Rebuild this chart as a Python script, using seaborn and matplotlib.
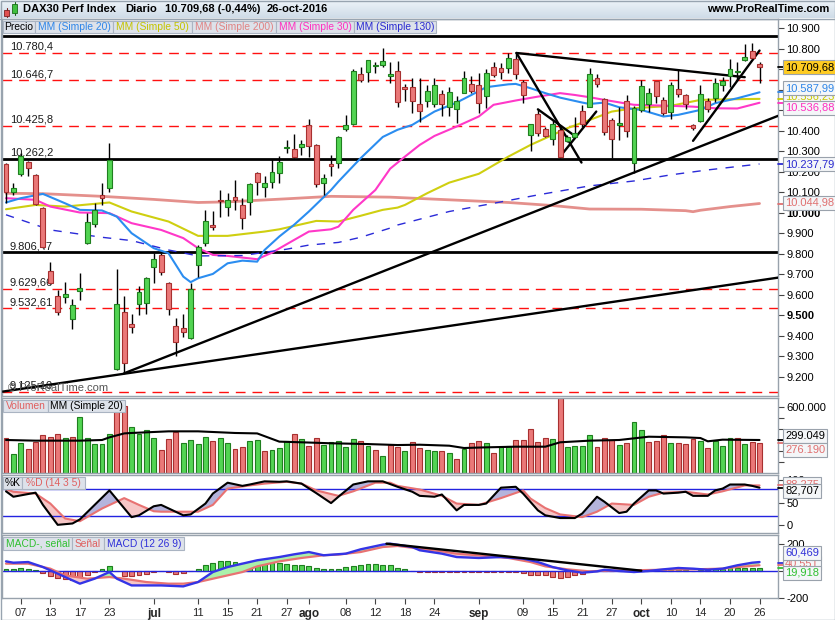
import numpy as np
import matplotlib
matplotlib.use("Agg")
import matplotlib.pyplot as plt
from matplotlib.patches import Rectangle
from matplotlib.colors import to_rgb
import seaborn as sns

# ---------------- data ----------------
opens = [10237,10100,10190,10247,10183,10022,9716,9594,9587,9480,
         9618,9851,9946,10085,10120,9236,9514,9457,9553,9558,
         9737,9792,9656,9447,9436,9387,9745,9851,9939,10063,
         10030,10076,10038,10051,10193,10128,10152,10196,10318,10312,
         10320,10426,10330,10147,10237,10242,10408,10434,10678,10686,
         10718,10720,10668,10694,10613,10613,10531,10546,10531,10579,
         10518,10505,10587,10627,10624,10570,10710,10706,10706,10751,
         10640,10380,10481,10408,10359,10405,10351,10372,10497,10518,
         10660,10554,10453,10429,10546,10242,10502,10531,10644,10551,
         10494,10605,10575,10426,10450,10548,10559,10624,10668,10686,
         10746,10790,10725]
highs = [10245,10147,10291,10255,10190,10030,9757,9623,9661,9578,
         9705,9998,10046,10147,10339,9724,9591,9506,9640,9688,
         9802,9802,9661,9485,9506,9656,9843,10014,10006,10111,
         10095,10160,10071,10147,10201,10180,10261,10277,10356,10385,
         10356,10458,10335,10190,10281,10375,10478,10702,10711,10746,
         10735,10803,10738,10743,10629,10657,10657,10624,10657,10600,
         10616,10570,10693,10668,10681,10701,10738,10733,10779,10782,
         10649,10432,10505,10421,10453,10421,10380,10466,10527,10706,
         10676,10559,10461,10518,10575,10522,10649,10608,10644,10567,
         10640,10697,10579,10431,10624,10559,10657,10665,10750,10738,
         10824,10828,10738]
lows = [10046,10087,10180,10177,10038,9827,9653,9501,9561,9431,
        9574,9848,9929,10038,10103,9233,9216,9415,9501,9506,
        9656,9696,9501,9301,9395,9382,9688,9838,9916,9981,
        9985,10011,9921,9989,10087,10076,10123,10147,10294,10266,
        10282,10274,10128,10087,10180,10217,10401,10429,10636,10637,
        10684,10711,10632,10515,10548,10489,10445,10515,10515,10470,
        10473,10440,10584,10584,10489,10513,10662,10652,10681,10653,
        10538,10299,10375,10372,10331,10266,10343,10369,10421,10515,
        10613,10380,10266,10356,10369,10193,10494,10494,10538,10478,
        10456,10567,10505,10404,10445,10494,10543,10592,10616,10649,
        10743,10754,10632]
closes = [10100,10120,10278,10217,10043,9831,9656,9517,9602,9548,
          9631,9957,10014,10071,10258,9555,9265,9444,9612,9680,
          9773,9709,9529,9371,9417,9627,9831,9962,9928,10056,
          10063,10063,9976,10141,10152,10144,10198,10247,10322,10274,
          10334,10328,10142,10168,10227,10369,10429,10693,10649,10745,
          10722,10740,10678,10540,10603,10546,10497,10595,10624,10530,
          10588,10546,10657,10592,10535,10684,10673,10686,10754,10676,
          10575,10432,10388,10375,10432,10274,10372,10391,10434,10676,
          10627,10393,10359,10437,10401,10510,10619,10584,10570,10489,
          10624,10579,10531,10413,10579,10505,10632,10645,10701,10693,
          10762,10755,10710]

volume_k = [319,173,271,219,285,343,328,353,319,328,
            508,319,264,264,355,568,614,416,355,392,
            319,210,310,377,271,301,264,325,289,319,
            271,219,234,289,301,198,210,228,289,355,
            310,243,322,255,280,289,234,310,289,243,
            210,155,258,234,200,280,228,210,198,198,
            180,128,219,271,289,271,180,234,243,301,
            301,401,280,319,310,690,234,243,243,346,
            234,319,301,255,271,462,392,280,289,346,
            271,271,264,310,289,228,289,243,319,319,
            264,280,276]
volma_idx = [0,4,10,13,14,16,17,22,26,31,34,37,40,44,49,53,56,60,62,65,69,73,75,79,83,85,87,92,94,95,97,102]
volma_val = [301,295,295,301,325,361,365,380,380,365,361,286,280,271,264,255,258,249,228,234,240,240,280,295,301,316,331,325,319,289,304,301]

ma20_idx = [0,2,5,8,10,13,15,17,20,22,24,25,26,28,30,32,34,35,37,39,41,44,45,48,51,53,55,58,61,63,65,68,69,71,73,75,78,79,81,83,86,89,91,94,96,99,102]
ma20_val = [10050,10071,10092,10046,10014,10011,9981,9900,9827,9802,9688,9661,9680,9701,9753,9766,9761,9818,9884,9941,10006,10111,10152,10266,10370,10405,10429,10494,10538,10575,10613,10627,10629,10608,10584,10562,10538,10531,10538,10515,10502,10470,10478,10502,10535,10559,10588]
ma30_idx = [0,4,6,10,14,17,21,24,26,28,30,34,36,39,41,44,45,47,50,52,54,56,58,61,64,66,69,72,75,77,79,81,85,90,93,96,99,102]
ma30_val = [10071,10063,10030,10001,9998,9949,9916,9876,9827,9794,9789,9773,9805,9867,9908,9919,9932,10014,10111,10215,10274,10331,10375,10421,10470,10527,10548,10567,10584,10575,10564,10551,10527,10522,10518,10510,10509,10537]
ma50_idx = [0,4,8,14,17,22,26,30,35,37,42,45,48,51,53,54,57,60,64,68,71,74,76,79,82,85,90,94,98,102]
ma50_val = [10017,10038,10030,10050,10006,9957,9887,9887,9908,9919,9960,9957,9985,10014,10025,10038,10095,10147,10190,10274,10331,10380,10413,10453,10494,10510,10522,10551,10554,10556]
ma200_idx = [0,5,13,20,26,30,38,44,52,60,68,74,79,86,92,93,94,98,102]
ma200_val = [10095,10093,10080,10065,10050,10053,10068,10080,10076,10063,10050,10035,10018,10017,10010,10005,10012,10030,10045]
ma130_idx = [0,6,13,17,22,26,32,38,41,45,48,52,53,60,66,72,79,85,90,95,102]
ma130_val = [9990,9916,9880,9864,9818,9789,9791,9822,9842,9855,9880,9925,9940,10006,10046,10087,10131,10155,10185,10209,10238]

levels_black = [10862, 10262.2, 9806.47]
levels_red = [10780.4, 10646.7, 10425.8, 9629.66, 9532.61, 9125.10]
level_labels = {10780.4: "10.780,4", 10646.7: "10.646,7", 10425.8: "10.425,8", 10262.2: "10.262,2",
                9806.47: "9.806,47", 9629.66: "9.629,66", 9532.61: "9.532,61", 9125.10: "9.125,10"}
# trend lines as (index, price) pairs
trend_lines = [((16, 9216), (104.5, 10473)),
               ((-0.54, 9126), (104.5, 9683)),
               ((69.1, 10780), (100, 10662)),
               ((69.1, 10780), (77.9, 10245)),
               ((72, 10505), (77, 10375)),
               ((75, 10274), (79.9, 10494)),
               ((93, 10351), (102, 10792))]

k_idx = [0,1,4,5,7,9,10,12,14,17,18,20,21,24,25,27,28,30,32,33,35,37,38,40,42,44,45,47,49,51,53,55,56,58,59,61,62,64,65,67,69,70,72,73,75,77,78,80,81,83,84,85,87,88,89,91,92,93,95,96,97,98,100,101,102]
k_val = [75,63,72,45,1,4,13,45,77,18,22,42,45,22,24,48,70,94,87,90,97,96,97,92,71,49,63,90,97,97,85,74,65,63,68,33,45,45,48,83,85,70,33,22,16,16,26,63,52,27,30,48,77,77,70,72,74,65,65,77,81,90,90,87,83]
d_idx = [0,1,4,6,8,10,13,16,18,20,21,24,26,28,30,33,35,38,40,42,45,47,50,52,53,56,59,61,64,67,70,71,73,75,78,80,82,85,87,89,92,95,97,100,102]
d_val = [80,74,70,48,15,9,37,60,45,31,30,30,30,45,81,88,92,96,92,77,65,75,94,94,87,79,65,48,45,60,77,59,38,24,18,30,48,45,63,72,74,68,75,88,88]

macd_idx = [0,1,3,5,7,10,12,14,15,17,21,24,26,28,30,32,34,37,39,41,43,46,48,51,52,55,56,59,61,64,67,70,72,74,76,78,80,81,83,85,87,89,91,93,95,97,99,101,102]
macd_val = [69,59,64,27,-22,-96,-59,-10,-59,-109,-109,-116,-84,-10,27,52,77,101,121,138,114,126,158,193,200,175,151,126,101,94,101,89,64,27,2,-15,-5,7,-2,-10,-2,10,20,15,7,15,40,59,64]
sig_idx = [0,3,6,8,11,14,16,19,22,24,26,29,32,34,37,40,43,45,48,51,53,56,59,61,65,68,71,73,76,79,81,84,89,93,97,99,102]
sig_val = [52,52,15,-35,-59,-47,-59,-84,-96,-96,-84,-47,-10,32,69,94,114,119,138,175,183,163,143,126,109,94,64,32,10,-5,0,2,7,10,15,27,40]
hist_val = [15,15,17,10,2,-17,-40,-54,-64,-72,-64,-35,-10,15,32,0,-40,-40,-35,-22,
            -10,-5,-10,-22,-17,-5,15,40,59,69,69,64,59,64,69,59,59,59,52,44,
            40,35,20,15,15,15,27,35,44,49,49,44,40,20,15,-5,-10,-7,-7,-7,
            -7,-7,-7,-7,-7,-7,-7,-7,-7,-7,-17,-30,-35,-35,-47,-54,-47,-35,-22,-10,
            -5,-3,-5,-5,-3,0,3,5,5,5,5,3,3,0,3,5,10,15,20,22,
            22,22,20]
macd_trend = ((51.5, 200), (86, 0))

date_ticks = [2,6,10,14,20,26,30,34,38,41,46,50,54,58,64,70,74,78,82,86,90,94,98,102]
date_labels = ['07','13','17','23','jul','11','15','21','27','ago','08','12','18','24','sep',
               '09','15','21','27','oct','10','14','20','26']
months = {'jul', 'ago', 'sep', 'oct'}

# ---------------- styling ----------------
sns.set_theme(style="white")
plt.rcParams['font.family'] = ['Liberation Sans', 'DejaVu Sans']
plt.rcParams['axes.linewidth'] = 1.0

W, H = 835, 620
XMIN, XMAX = -0.54, 104.5
fig = plt.figure(figsize=(W / 100, H / 100), dpi=100)
fig.patch.set_facecolor('white')

GREEN, GREEN_E = '#52d452', '#1f7f1f'
RED, RED_E = '#ea7878', '#a83030'


def add_panel(y0, y1, x0=2, x1=778):
    ax = fig.add_axes([x0 / W, 1 - y1 / H, (x1 - x0) / W, (y1 - y0) / H])
    ax.set_facecolor('white')
    for s in ax.spines.values():
        s.set_color('#98a2ac')
        s.set_linewidth(1)
    ax.yaxis.tick_right()
    ax.tick_params(axis='y', which='both', direction='out', length=4, width=0.8,
                   color='#444444', labelsize=8, pad=2, labelcolor='black', right=True, left=False)
    ax.tick_params(axis='x', which='both', length=0, labelbottom=False, bottom=False)
    ax.set_xlim(XMIN, XMAX)
    ax.grid(False)
    return ax


ax_p = add_panel(19, 396)
ax_v = add_panel(398, 473)
ax_s = add_panel(475, 533)
ax_m = add_panel(535, 598)

idx = np.arange(len(closes))
o = np.array(opens, float); c = np.array(closes, float)
h = np.array(highs, float); l = np.array(lows, float)

# ---------------- price panel ----------------
ax_p.set_ylim(9105, 10946)
for lv in levels_red:
    ax_p.axhline(lv, color='#ff1010', lw=1.0, dashes=(7, 5), zorder=1)
for lv in levels_black:
    ax_p.axhline(lv, color='black', lw=2.0, zorder=1)
for lv, lab in level_labels.items():
    ax_p.annotate(lab, xy=(0, lv), xycoords=('axes fraction', 'data'), xytext=(5.5, 0.8),
                  textcoords='offset points', va='bottom', ha='left', fontsize=8, color='#1c1c1c', zorder=2)

ma_specs = [(ma200_idx, ma200_val, '#e07d78', 2.0, 0.85),
            (ma50_idx, ma50_val, '#cfcf10', 1.5, 1.0),
            (ma30_idx, ma30_val, '#ff38c8', 1.5, 1.0),
            (ma20_idx, ma20_val, '#2b8df0', 1.5, 1.0)]
for mi, mv, col, lw, al in ma_specs:
    sns.lineplot(x=mi, y=mv, ax=ax_p, color=col, lw=lw, alpha=al, zorder=2)
sns.lineplot(x=ma130_idx, y=ma130_val, ax=ax_p, color='#2a2ad8', lw=1.0, zorder=2)
ax_p.get_lines()[-1].set_dashes([6, 6])

for (x0, y0), (x1, y1) in trend_lines:
    ax_p.plot([x0, x1], [y0, y1], color='black', lw=1.7, zorder=3, solid_capstyle='round')

up = c >= o
body_lo = np.minimum(o, c)
body_h = np.maximum(np.abs(c - o), 4)
ax_p.vlines(idx, l, h, color='black', lw=1.0, zorder=4)
ax_p.bar(idx, body_h, bottom=body_lo, width=0.66,
         color=np.where(up, GREEN, RED), edgecolor=np.where(up, GREEN_E, RED_E),
         linewidth=0.8, zorder=5)

pt = list(range(9200, 10901, 100))
ax_p.set_yticks(pt)
ax_p.set_yticklabels([f"{v:,}".replace(',', '.') for v in pt])
for t, v in zip(ax_p.get_yticklabels(), pt):
    if v in (10000, 9500):
        t.set_fontweight('bold')
ax_p.text(0.008, 0.008, "\u00a9 ProRealTime.com", transform=ax_p.transAxes, fontsize=8,
          color='#555555', ha='left', va='bottom', zorder=6)

# ---------------- volume panel ----------------
vk = np.array(volume_k, float)
prev = np.concatenate([[o[0]], c[:-1]])
vup = c > prev
ax_v.set_ylim(0, 684)
ax_v.bar(idx, vk, width=0.66, color=np.where(vup, GREEN, RED),
         edgecolor=np.where(vup, GREEN_E, RED_E), linewidth=0.8, zorder=2)
sns.lineplot(x=volma_idx, y=volma_val, ax=ax_v, color='black', lw=1.5, zorder=3)
ax_v.set_yticks([600])
ax_v.set_yticklabels(['600.000'])
ax_v.set_yticks([100, 200, 300, 400, 500], minor=True)

# ---------------- stochastic panel ----------------
ax_s.set_ylim(-17, 111)
grid = np.arange(0, 102.001, 0.05)
kk = np.interp(grid, k_idx, k_val)
dd = np.interp(grid, d_idx, d_val)
ax_s.fill_between(grid, kk, dd, where=kk >= dd, color='#b4b4dc', interpolate=True, lw=0, zorder=1)
ax_s.fill_between(grid, kk, dd, where=kk < dd, color='#f6c6c6', interpolate=True, lw=0, zorder=1)
ax_s.axhline(80, color='#2323e0', lw=1.0, zorder=2)
ax_s.axhline(20, color='#2323e0', lw=1.0, zorder=2)
sns.lineplot(x=d_idx, y=d_val, ax=ax_s, color='#e87272', lw=1.5, zorder=3)
sns.lineplot(x=k_idx, y=k_val, ax=ax_s, color='black', lw=1.5, zorder=4)
ax_s.set_yticks([0, 50, 100])
ax_s.set_yticklabels(['0', '50', '100'])

# ---------------- MACD panel ----------------
ax_m.set_ylim(-202, 264)
hv = np.array(hist_val, float)
ax_m.bar(idx, hv, width=0.66, color=np.where(hv >= 0, GREEN, RED),
         edgecolor=np.where(hv >= 0, GREEN_E, RED_E), linewidth=0.8, zorder=1)
ax_m.axhline(0, color='#2323e0', lw=1.0, zorder=2)
mm = np.interp(grid, macd_idx, macd_val)
ss = np.interp(grid, sig_idx, sig_val)
ax_m.fill_between(grid, mm, ss, where=mm >= ss, color='#aaf0aa', interpolate=True, lw=0, zorder=2)
ax_m.fill_between(grid, mm, ss, where=mm < ss, color='#f6c6c6', interpolate=True, lw=0, zorder=2)
sns.lineplot(x=sig_idx, y=sig_val, ax=ax_m, color='#e87272', lw=1.6, zorder=3)
sns.lineplot(x=macd_idx, y=macd_val, ax=ax_m, color='#3434e6', lw=1.7, zorder=4)
(tx0, ty0), (tx1, ty1) = macd_trend
ax_m.plot([tx0, tx1], [ty0, ty1], color='black', lw=1.7, zorder=5)
ax_m.set_yticks([-200, 0, 200])
ax_m.set_yticklabels(['-200', '0', '200'])
ax_m.set_xticks(date_ticks)
ax_m.set_xticklabels(date_labels)
ax_m.tick_params(axis='x', which='both', length=4, width=0.8, color='#444444', bottom=True,
                 labelbottom=True, labelsize=8, pad=3, direction='out')
for t, lab in zip(ax_m.get_xticklabels(), date_labels):
    if lab in months:
        t.set_fontweight('bold')
        t.set_fontsize(8.5)

for ax in (ax_p, ax_v, ax_s, ax_m):
    ax.set_xlabel('')
    ax.set_ylabel('')
    ax.set_xlim(XMIN, XMAX)

# ---------------- overlay: header, legends, value boxes ----------------
ov = fig.add_axes([0, 0, 1, 1], zorder=20)
ov.axis('off')
c0 = np.array(to_rgb('#edf3f8')); c1 = np.array(to_rgb('#cfdce8'))
gr = np.linspace(0, 1, 18)[:, None, None]
img = c0 + (c1 - c0) * gr
ov.imshow(img, extent=[0, W, 18, 0], aspect='auto', interpolation='bilinear', zorder=0)
ov.set_xlim(0, W)
ov.set_ylim(H, 0)
ov.plot([0, W], [18.5, 18.5], color='#98a4b0', lw=1, zorder=1)
ov.add_patch(Rectangle((0.5, 0.5), W - 1, H - 1, fill=False, ec='#98a4b0', lw=1, zorder=1))

# small candle icon
ov.plot([6.5, 6.5], [8, 17], color='#7a2020', lw=0.8, zorder=2)
ov.add_patch(Rectangle((4, 10), 5, 6, fc='#e05050', ec='#7a2020', lw=0.6, zorder=3))
ov.plot([14.5, 14.5], [2, 15], color='#1a6a1a', lw=0.8, zorder=2)
ov.add_patch(Rectangle((12, 4), 5, 9, fc='#40c040', ec='#1a6a1a', lw=0.6, zorder=3))

for x, s in [(23, "DAX30 Perf Index"), (125, "Diario"), (165, "10.709,68 (-0,44%)"), (267, "26-oct-2016")]:
    ov.text(x, 9.5, s, fontsize=8, fontweight='bold', ha='left', va='center', color='black', zorder=4)
ov.text(829, 9.5, "www.ProRealTime.com", fontsize=8, fontweight='bold', ha='right', va='center',
        color='black', zorder=4)


def lbox(x0, x1, y0, y1, text, color):
    ov.add_patch(Rectangle((x0, y0), x1 - x0, y1 - y0, fc='#dde2ea', ec='#aab4c2', lw=0.8, zorder=5))
    ov.text((x0 + x1) / 2, (y0 + y1) / 2 + 0.3, text, color=color, fontsize=7.4,
            ha='center', va='center', zorder=6)


for x0, x1, t, col in [(3, 35, "Precio", 'black'), (35, 113, "MM (Simple 20)", '#2f86e8'),
                       (113, 192, "MM (Simple 50)", '#c4c400'), (192, 276, "MM (Simple 200)", '#e08484'),
                       (276, 354, "MM (Simple 30)", '#ff30c0'), (354, 436, "MM (Simple 130)", '#2a2ad0')]:
    lbox(x0, x1, 20.5, 33, t, col)
for x0, x1, t, col in [(3, 48, "Volumen", '#e06060'), (48, 125, "MM (Simple 20)", 'black')]:
    lbox(x0, x1, 399.5, 412, t, col)
for x0, x1, t, col in [(3, 22, "%K", 'black'), (22, 85, "%D (14 3 5)", '#e06060')]:
    lbox(x0, x1, 476.5, 489, t, col)
for x0, x1, t, col in [(3, 72, "MACD-, se\u00f1al", '#30c030'), (72, 104, "Se\u00f1al", '#e06060'),
                       (104, 184, "MACD (12 26 9)", '#3030d8')]:
    lbox(x0, x1, 536.5, 550, t, col)


def ypix(ax, val):
    return H - ax.transData.transform((0, val))[1]


def vbox(ax, val, text, color, fc='#f4f6f8', dy=0.0, tick=True):
    y = ypix(ax, val) + dy
    if tick:
        ov.plot([778, 783], [ypix(ax, val), ypix(ax, val)], color=color, lw=1.3, zorder=7)
    ov.text(785, y, text, color=color, fontsize=8, ha='left', va='center', zorder=8,
            bbox=dict(boxstyle='square,pad=0.18', fc=fc, ec='#9aa2ac', lw=0.8))


vbox(ax_p, 10556.23, "10.556,23", '#c8c800', dy=-2)
vbox(ax_p, 10587.99, "10.587,99", '#2f86e8', dy=-4)
vbox(ax_p, 10536.88, "10.536,88", '#ff30c0', dy=5)
vbox(ax_p, 10709.68, "10.709,68", 'black', fc='#ffcc22')
vbox(ax_p, 10237.79, "10.237,79", '#2a2ad0')
vbox(ax_p, 10044.98, "10.044,98", '#e07070', dy=-1)

vbox(ax_v, 299.049, "299.049", 'black', dy=-4)
vbox(ax_v, 276.190, "276.190", '#e07070', dy=7)

vbox(ax_s, 88.275, "88,275", '#e07070', dy=-1)
vbox(ax_s, 82.707, "82,707", 'black', dy=3)

vbox(ax_m, 40.551, "40,551", '#e07070', dy=-2)
vbox(ax_m, 60.469, "60,469", '#3030d8', dy=-10)
vbox(ax_m, 19.918, "19,918", '#30c030', dy=5)

fig.savefig("out.png", dpi=100, facecolor='white')
